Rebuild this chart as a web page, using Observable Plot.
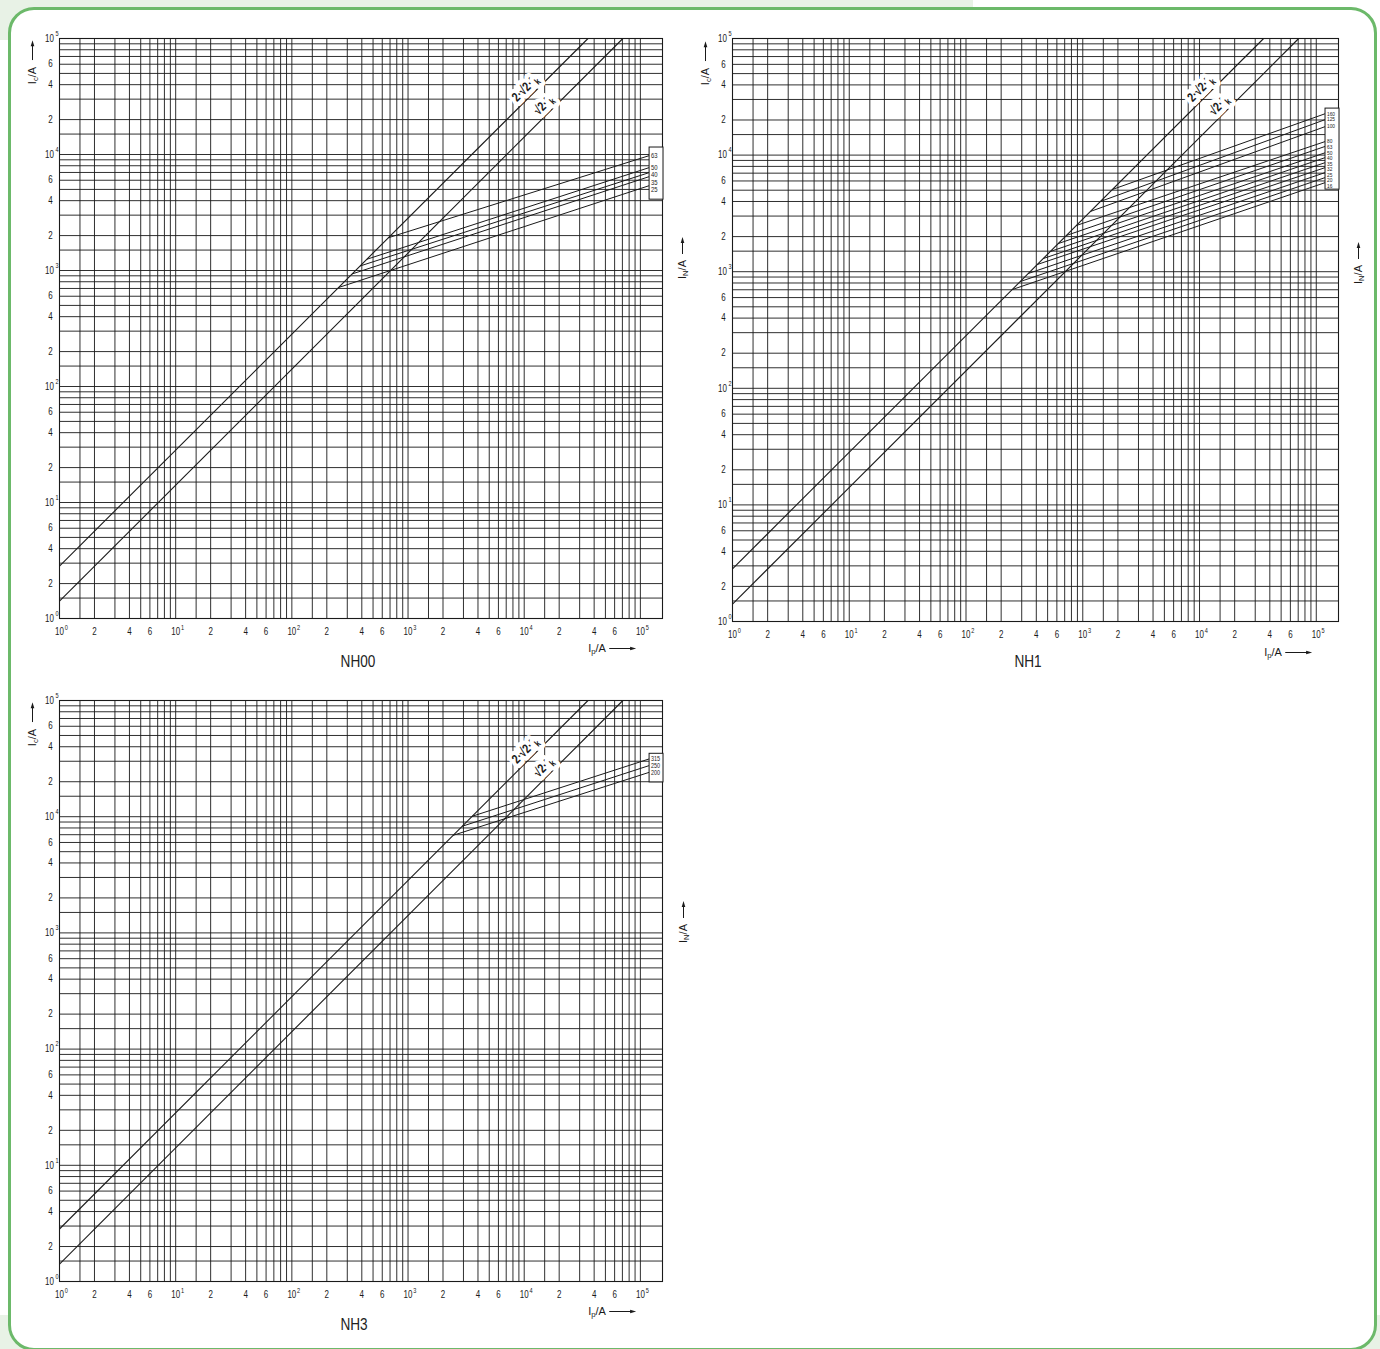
<!DOCTYPE html>
<html>
<head>
<meta charset="utf-8">
<script src="https://cdn.jsdelivr.net/npm/d3@7"></script>
<script src="https://cdn.jsdelivr.net/npm/@observablehq/plot@0.6"></script>
<style>
  html, body { margin:0; padding:0; background:#fff; }
  #page { position:relative; width:1380px; height:1349px; overflow:hidden;
          font-family:"Liberation Sans",Arial,sans-serif; color:#1a1a1a; }
  .tint { position:absolute; background:#e8f2e6; }
  .card { position:absolute; left:8px; top:7px; width:1369px; height:1344px; box-sizing:border-box;
          border:3px solid #6cb96a; border-radius:26px; background:#fff; }
  .panel { position:absolute; }
  .panel svg { overflow:visible; }
  .title { position:absolute; transform:translate(-50%,-50%) scaleX(0.8); font-size:17px; white-space:nowrap; color:#222; }
  .name { position:absolute; display:flex; align-items:center; font-size:11px; white-space:nowrap; line-height:10px; }
  .name sub { font-size:70%; vertical-align:-0.3em; line-height:0; }
  .xname { transform:translate(-50%,-50%); }
  .yname { transform:translate(-50%,-50%) rotate(-90deg); }
</style>
</head>
<body>
<div id="page">
  <div class="tint" style="left:0;top:0;width:973px;height:40px"></div>
  <div class="tint" style="left:0;top:1315px;width:1380px;height:34px"></div>
  <div class="card"></div>
</div>
<script>
// ---------------- data ----------------
// axis tick labels: decades (10^n) and the 2 / 4 / 6 labels between them
const decadeTicks = [1, 10, 100, 1000, 10000, 100000];
const decadeExps  = ["0", "1", "2", "3", "4", "5"];
const minorTicks  = [2,4,6, 20,40,60, 200,400,600, 2000,4000,6000, 20000,40000,60000];
const minorLabels = ["2","4","6", "2","4","6", "2","4","6", "2","4","6", "2","4","6"];
// grid lines (1, 1.5, 2 ... 9 in every decade)
const gridValues = [1,1.5,2,3,4,5,6,7,8,9,
  10,15,20,30,40,50,60,70,80,90,
  100,150,200,300,400,500,600,700,800,900,
  1000,1500,2000,3000,4000,5000,6000,7000,8000,9000,
  10000,15000,20000,30000,40000,50000,60000,70000,80000,90000,
  100000];
const xMax = 155000;          // right edge of every frame (I_p / A)
const yDomain = [1, 100000];  // I_c / A

// reference lines: I_c = 2·√2·I_k and I_c = √2·I_k
const diagNames = ["2·√2·I_k", "√2·I_k"];
const diagIp0   = [1, 1];
const diagIc0   = [2.83, 1.41];
const diagIp1   = [35400, 70700];
const diagIc1   = [100000, 100000];
const diagLabIp = [11600, 16700];
const diagLabIc = [32800, 23600];

// NH00
const nh00Ratings = [25, 35, 40, 50, 63];
const nh00StartIp = [252, 330, 387, 442, 678];
const nh00StartIc = [713, 934, 1094, 1250, 1917];
const nh00EndIp   = [120000, 120000, 120000, 120000, 120000];
const nh00EndIc   = [5400, 6460, 7000, 7730, 9800];

// NH1
const nh1Ratings = [16, 20, 25, 32, 35, 40, 50, 63, 80, 100, 125, 160];
const nh1StartIp = [248, 291, 341, 407, 458, 526, 616, 722, 879, 1160, 1413, 1791];
const nh1StartIc = [702, 823, 965, 1152, 1296, 1489, 1743, 2043, 2488, 3283, 3999, 5069];
const nh1EndIp   = [120000, 120000, 120000, 120000, 120000, 120000, 120000, 120000, 120000, 120000, 120000, 120000];
const nh1EndIc   = [5820, 6430, 7100, 7830, 8640, 9540, 10500, 11900, 13100, 17600, 20200, 22700];

// NH3
const nh3Ratings = [200, 250, 315];
const nh3StartIp = [2445, 2925, 3565];
const nh3StartIc = [6915, 8272, 10082];
const nh3EndIp   = [120000, 120000, 120000];
const nh3EndIc   = [24150, 27600, 31500];

// ---------------- layout ----------------
const FONT = '"Liberation Sans",Arial,sans-serif';
const INK = "#1a1a1a";
const ML = 46, MR = 30, MT = 22, MB = 28;

const panels = [
  {title:"NH00", ratings:nh00Ratings, startIp:nh00StartIp, startIc:nh00StartIc, endIp:nh00EndIp, endIc:nh00EndIc,
   left:59, top:38, w:603, h:580, gap:7.4, lab:7.4, pad:[8,10],
   titlePos:[358,662], xname:[612,648], yLeft:[32,62], yRight:[682,258]},
  {title:"NH1", ratings:nh1Ratings, startIp:nh1StartIp, startIc:nh1StartIc, endIp:nh1EndIp, endIc:nh1EndIc,
   left:732, top:38, w:606, h:583, gap:5.5, lab:6, pad:[5,4],
   titlePos:[1028,662], xname:[1288,652], yLeft:[705,63], yRight:[1358,263]},
  {title:"NH3", ratings:nh3Ratings, startIp:nh3StartIp, startIc:nh3StartIc, endIp:nh3EndIp, endIc:nh3EndIc,
   left:59, top:700, w:603, h:581, gap:6.8, lab:6.8, pad:[5,10],
   titlePos:[354,1325], xname:[612,1311], yLeft:[32,724], yRight:[683,922]}
];

function arrow(len) {
  return `<svg width="${len}" height="7" viewBox="0 0 ${len} 7" style="display:block">` +
    `<line x1="0" y1="3.5" x2="${len-5}" y2="3.5" stroke="${INK}" stroke-width="1"/>` +
    `<path d="M${len-6},1.7 L${len},3.5 L${len-6},5.3Z" fill="${INK}"/></svg>`;
}

const page = document.getElementById("page");
function addDiv(cls, html, x, y) {
  const d = document.createElement("div");
  d.className = cls;
  d.style.left = x + "px";
  d.style.top = y + "px";
  d.innerHTML = html;
  page.appendChild(d);
  return d;
}

const diags = diagNames.map((n, i) => ({name:n, ip0:diagIp0[i], ic0:diagIc0[i], ip1:diagIp1[i], ic1:diagIc1[i], lip:diagLabIp[i], lic:diagLabIc[i]}));

for (const p of panels) {
  const W = p.w + ML + MR, H = p.h + MT + MB;
  const yPx = d3.scaleLog().domain(yDomain).range([MT + p.h, MT]);
  // spread the end labels so they do not collide (pixel space), then back to data
  const ends = p.endIc.map(v => yPx(v));
  const order = d3.range(ends.length).sort((a, b) => ends[a] - ends[b]);
  const labY = ends.slice();
  for (let k = 1; k < order.length; k++) {
    const a = order[k-1], b = order[k];
    labY[b] = Math.max(labY[b], labY[a] + p.gap);
  }
  const curves = p.ratings.map((r, i) => ({r:String(r), ip0:p.startIp[i], ic0:p.startIc[i], ip1:p.endIp[i], ic1:p.endIc[i], icLab:yPx.invert(labY[i])}));
  const endIp = d3.max(p.endIp);
  const box = [{x1:endIp, x2:xMax * 1.02, y1:yPx.invert(d3.max(labY) + p.pad[1]), y2:yPx.invert(d3.min(labY) - p.pad[0])}];

  const tickText = {fill: INK, textAnchor:"middle", lineAnchor:"middle"};
  const svg = Plot.plot({
    width: W, height: H,
    marginLeft: ML, marginRight: MR, marginTop: MT, marginBottom: MB,
    x: {type:"log", domain:[1, xMax], axis:null},
    y: {type:"log", domain:yDomain, axis:null},
    style: {fontFamily: FONT, fontSize:"10px", background:"transparent", color: INK, overflow:"visible"},
    marks: [
      Plot.gridX(gridValues, {stroke: INK, strokeOpacity: 0.9, strokeWidth: 1}),
      Plot.gridY(gridValues, {stroke: INK, strokeOpacity: 0.9, strokeWidth: 1}),
      Plot.frame({stroke: INK, strokeWidth: 1.1}),
      // x tick labels
      Plot.text(decadeTicks, {...tickText, x: d => d, frameAnchor:"bottom", dy:13, text: () => "10", fontSize:10}),
      Plot.text(decadeTicks, {...tickText, x: d => d, frameAnchor:"bottom", dy:9.5, dx:6.8, text: (d, i) => decadeExps[i], fontSize:7}),
      Plot.text(minorTicks, {...tickText, x: d => d, frameAnchor:"bottom", dy:13, text: (d, i) => minorLabels[i], fontSize:10}),
      // y tick labels
      Plot.text(decadeTicks, {...tickText, y: d => d, frameAnchor:"left", dx:-10, text: () => "10", fontSize:10}),
      Plot.text(decadeTicks, {...tickText, y: d => d, frameAnchor:"left", dx:-2.5, dy:-5, text: (d, i) => decadeExps[i], fontSize:7}),
      Plot.text(minorTicks, {...tickText, y: d => d, frameAnchor:"left", dx:-9, text: (d, i) => minorLabels[i], fontSize:10}),
      // reference lines and fuse curves
      Plot.link(diags, {x1:"ip0", y1:"ic0", x2:"ip1", y2:"ic1", stroke: INK, strokeWidth: 1.1}),
      Plot.link(curves, {x1:"ip0", y1:"ic0", x2:"ip1", y2:"ic1", stroke: INK, strokeWidth: 1}),
      Plot.text(diags, {x:"lip", y:"lic", text:"name", rotate:-45, dx:-6.5, dy:-6.5,
        fill: INK, stroke:"white", strokeWidth:9, paintOrder:"stroke", fontSize:13, fontWeight:"bold"}),
      Plot.rect(box, {x1:"x1", x2:"x2", y1:"y1", y2:"y2", fill:"white", stroke: INK, strokeWidth:1}),
      Plot.text(curves, {x:"ip1", y:"icLab", text:"r", textAnchor:"start", lineAnchor:"middle", dx:1.5, fontSize:p.lab, fill: INK})
    ]
  });

  // subscript k, and a narrow (condensed) look for all chart text
  d3.select(svg).selectAll("text").each(function() {
    const t = this.textContent;
    const m = /^(.*)_k$/.exec(t);
    if (m) {
      this.textContent = m[1];
      d3.select(this).append("tspan").attr("dy", "0.3em").attr("font-size", "0.75em").text("k");
    }
    const tf = this.getAttribute("transform");
    if (tf) this.setAttribute("transform", tf + " scale(0.8,1)");
    else {
      const x = parseFloat(this.getAttribute("x")), y = parseFloat(this.getAttribute("y"));
      if (isFinite(x) && isFinite(y) && !/em/.test(this.getAttribute("y"))) {
        this.removeAttribute("x"); this.removeAttribute("y");
        this.setAttribute("transform", `translate(${x},${y}) scale(0.8,1)`);
      }
    }
  });

  const holder = document.createElement("div");
  holder.className = "panel";
  holder.style.left = (p.left - ML) + "px";
  holder.style.top = (p.top - MT) + "px";
  holder.appendChild(svg);
  page.appendChild(holder);

  addDiv("title", p.title, p.titlePos[0], p.titlePos[1]);
  addDiv("name xname", `<span>I<sub>p</sub>/A</span><span style="width:3px"></span>${arrow(27)}`, p.xname[0], p.xname[1]);
  addDiv("name yname", `<span>I<sub>c</sub>/A</span><span style="width:7px"></span>${arrow(20)}`, p.yLeft[0], p.yLeft[1]);
  addDiv("name yname", `<span>I<sub>N</sub>/A</span><span style="width:6px"></span>${arrow(17)}`, p.yRight[0], p.yRight[1]);
}
</script>
</body>
</html>
